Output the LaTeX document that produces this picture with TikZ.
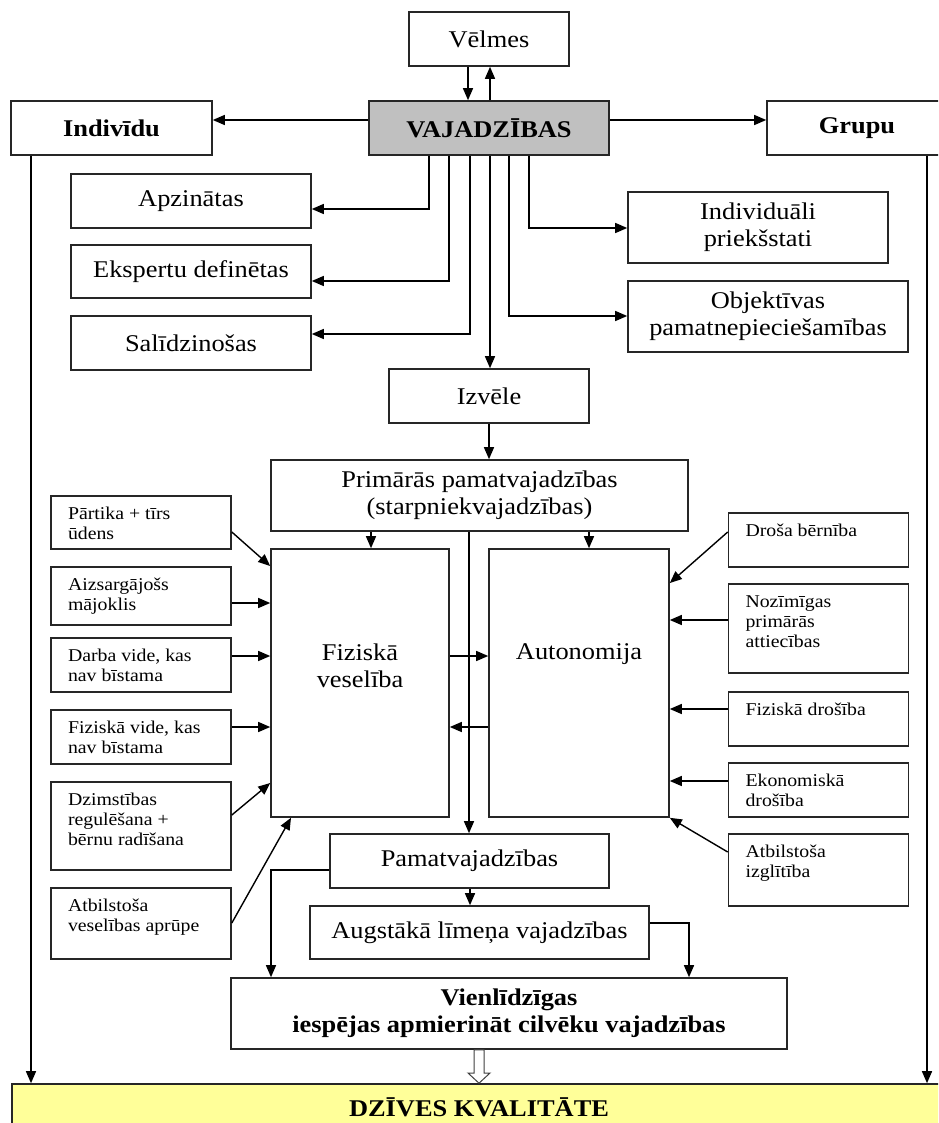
\documentclass[tikz,border=0pt]{standalone}
\usepackage{fontspec}
\setmainfont{Liberation Serif}[FakeStretch=1.1]
\usetikzlibrary{arrows.meta,positioning}

\definecolor{vajgray}{RGB}{192,192,192}
\definecolor{dzyellow}{RGB}{255,255,153}
\newcommand{\sidetext}[2]{\parbox[c][#1pt][t]{146pt}{\raggedright\vspace*{9pt}\strut#2}}

\begin{document}
\begin{tikzpicture}
        [
        x = 1pt, y = -1pt,
        >={Triangle[length=12pt, width=10pt]},
        line width = 1.4pt,
        box/.style = {
            draw = black!85, line width = 1.6pt,
            align = center, inner sep = 0pt,
            font = \fontsize{24}{27}\selectfont,
        },
        boldbox/.style = {
            box,
            font = \fontsize{24}{27}\selectfont\bfseries,
        },
        boxtext/.style = {
            align = center, inner sep = 0pt,
            font = \fontsize{24}{27}\selectfont,
        },
        sidebox/.style = {
            draw = black!85, line width = 1.6pt,
            inner xsep = 17pt, inner ysep = 0pt,
            font = \fontsize{18}{20}\selectfont,
        },
        elbow/.style = {to path = {|- (\tikztotarget)}},
        elbowh/.style = {to path = {-| (\tikztotarget)}},
        ]

        \useasboundingbox (0,0) rectangle (938,1123);
        \clip (0,0) rectangle (938,1123);

        % Augsa
        \node[box, minimum width = 160, minimum height = 54] (velmes) at (489,39) {Vēlmes};
        \node[boldbox, fill = vajgray, minimum width = 240, minimum height = 54] (vajadzibas) at (489,128) {VAJADZĪBAS};
        \node[boldbox, minimum width = 201, minimum height = 54] (individu) at (111.5,128) {Indivīdu};
        \node[boldbox, minimum width = 180, minimum height = 54] (grupu) at (857,128) {Grupu};

        % Vajadzibu veidi
        \node[box, minimum width = 240, minimum height = 54] (apzinatas) at (191,201) {Apzinātas};
        \node[box, minimum width = 240, minimum height = 53] (eksperti) at (191,271.5) {Ekspertu definētas};
        \node[box, minimum width = 240, minimum height = 54] (salidz) at (191,343) {Salīdzinošas};
        \node[box, minimum width = 260, minimum height = 71] (priekstati) at (758,227.5) {Individuāli\\priekšstati};
        \node[box, minimum width = 280, minimum height = 71] (objektivas) at (768,316.5) {Objektīvas\\pamatnepieciešamības};
        \node[box, minimum width = 200, minimum height = 54] (izvele) at (489,396) {Izvēle};

        % Pamatvajadzibas
        \node[box, minimum width = 417, minimum height = 71] (primaras) at (479.5,495.5) {Primārās pamatvajadzības\\(starpniekvajadzības)};
        \node[box, minimum width = 178, minimum height = 268] (fiz_veseliba) at (360,683) {};
        \node[box, minimum width = 180, minimum height = 268] (autonomija) at (579,683) {};
        \node[boxtext, below = 95pt of fiz_veseliba.north] (fiz_teksts) {Fiziskā\\veselība};
        \node[boxtext, below = 95pt of autonomija.north] (aut_teksts) {Autonomija};

        % Kreisa puse
        \node[sidebox] (l_partika) at (141,522.5) {\sidetext{53}{Pārtika + tīrs\\ūdens}};
        \node[sidebox] (l_majoklis) at (141,596) {\sidetext{58}{Aizsargājošs\\mājoklis}};
        \node[sidebox] (l_darba) at (141,665) {\sidetext{54}{Darba vide, kas\\nav bīstama}};
        \node[sidebox] (l_vide) at (141,737) {\sidetext{54}{Fiziskā vide, kas\\nav bīstama}};
        \node[sidebox] (l_dzimst) at (141,826) {\sidetext{88}{Dzimstības\\regulēšana +\\bērnu radīšana}};
        \node[sidebox] (l_aprupe) at (141,923.5) {\sidetext{71}{Atbilstoša\\veselības aprūpe}};

        % Laba puse
        \node[sidebox] (r_berniba) at (818.5,540) {\sidetext{54}{Droša bērnība}};
        \node[sidebox] (r_attiecibas) at (818.5,628.5) {\sidetext{89}{Nozīmīgas\\primārās\\attiecības}};
        \node[sidebox] (r_drosiba) at (818.5,719) {\sidetext{54}{Fiziskā drošība}};
        \node[sidebox] (r_ekonom) at (818.5,790) {\sidetext{54}{Ekonomiskā\\drošība}};
        \node[sidebox] (r_izglitiba) at (818.5,870) {\sidetext{72}{Atbilstoša\\izglītība}};

        % Apaksa
        \node[box, minimum width = 279, minimum height = 54] (pamat) at (469.5,861) {Pamatvajadzības};
        \node[box, minimum width = 339, minimum height = 53] (augstaka) at (479.5,932.5) {Augstākā līmeņa vajadzības};
        \node[boldbox, minimum width = 556, minimum height = 71] (vienlidz) at (509,1013.5) {Vienlīdzīgas\\iespējas apmierināt cilvēku vajadzības};
        \node[boldbox, fill = dzyellow, minimum width = 934, minimum height = 46] (kvalitate) at (479,1107) {DZĪVES KVALITĀTE};

        % Savienojumi augsa
        \path
            [
            ->
            ]
            (468,0 |- velmes.south) edge (468,0 |- vajadzibas.north)
            (490,0 |- vajadzibas.north) edge (490,0 |- velmes.south)
            (vajadzibas.west |- 0,120) edge (individu.east |- 0,120)
            (vajadzibas.east |- 0,120) edge (grupu.west |- 0,120)
            (429,0 |- vajadzibas.south) edge[elbow] (apzinatas.east |- 0,209)
            (449,0 |- vajadzibas.south) edge[elbow] (eksperti.east |- 0,281)
            (470,0 |- vajadzibas.south) edge[elbow] (salidz.east |- 0,334)
            (529,0 |- vajadzibas.south) edge[elbow] (priekstati.west |- 0,228)
            (509,0 |- vajadzibas.south) edge[elbow] (objektivas.west |- 0,316)
            (490,0 |- vajadzibas.south) edge (490,0 |- izvele.north)
            (izvele.south) edge (izvele.south |- primaras.north);

        % Savienojumi vidu
        \path
            [
            ->
            ]
            (371,0 |- primaras.south) edge (371,0 |- fiz_veseliba.north)
            (589,0 |- primaras.south) edge (589,0 |- autonomija.north)
            (469,0 |- primaras.south) edge (469,0 |- pamat.north)
            (fiz_veseliba.east |- 0,656) edge (autonomija.west |- 0,656)
            (autonomija.west |- 0,727) edge (fiz_veseliba.east |- 0,727)
            (l_partika.east |- 0,532) edge (fiz_veseliba.west |- 0,566)
            (l_majoklis.east |- 0,603) edge (fiz_veseliba.west |- 0,603)
            (l_darba.east |- 0,656) edge (fiz_veseliba.west |- 0,656)
            (l_vide.east |- 0,727) edge (fiz_veseliba.west |- 0,727)
            (l_dzimst.east |- 0,815) edge (fiz_veseliba.west |- 0,783)
            (l_aprupe.east |- 0,923) edge (291,0 |- fiz_veseliba.south)
            (r_berniba.west |- 0,532) edge (autonomija.east |- 0,583)
            (r_attiecibas.west |- 0,620) edge (autonomija.east |- 0,620)
            (r_drosiba.west |- 0,709) edge (autonomija.east |- 0,709)
            (r_ekonom.west |- 0,781) edge (autonomija.east |- 0,781)
            (r_izglitiba.west |- 0,852) edge (autonomija.south east);

        % Savienojumi apaksa
        \path
            [
            ->
            ]
            (470,0 |- pamat.south) edge (470,0 |- augstaka.north)
            (pamat.west |- 0,870) edge[elbowh] (271,0 |- vienlidz.north)
            (augstaka.east |- 0,923) edge[elbowh] (689,0 |- vienlidz.north)
            (31,0 |- individu.south) edge (31,0 |- kvalitate.north)
            (927,0 |- grupu.south) edge (927,0 |- kvalitate.north);

        \draw[line width = 1pt, draw = black!75, fill = white]
            (474,0 |- vienlidz.south) -- (484,0 |- vienlidz.south) -- (484,1073) -- (490,1073)
            -- (479,0 |- kvalitate.north) -- (468,1073) -- (474,1073) -- cycle;
    \end{tikzpicture}
\end{document}
